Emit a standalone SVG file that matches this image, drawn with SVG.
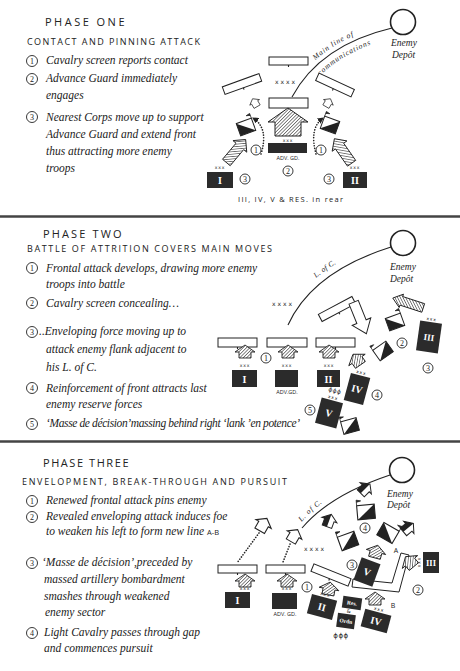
<svg xmlns="http://www.w3.org/2000/svg" xmlns:xlink="http://www.w3.org/1999/xlink" width="460" height="671" viewBox="0 0 460 671">
<style>
.t{font-family:"Liberation Serif",serif;font-style:italic;font-size:11.5px;fill:#222}
.h{font-family:"Open Sans",sans-serif;font-size:11px;letter-spacing:1.5px;fill:#222}
.s{font-family:"Open Sans",sans-serif;font-size:9px;fill:#222}
.n{font-family:"Liberation Serif",serif;font-size:8px;fill:#222;text-anchor:middle}
.c{fill:#fff;stroke:#222;stroke-width:0.9}
.x{font-family:"DejaVu Sans",sans-serif;font-size:4.5px;letter-spacing:0.8px;fill:#222;text-anchor:middle}
.x4{font-family:"DejaVu Sans",sans-serif;font-size:6px;letter-spacing:2px;fill:#222;text-anchor:middle}
.box{fill:#2b2b2b}
.rn{font-family:"Liberation Serif",serif;font-weight:bold;font-size:10px;fill:#fff;text-anchor:middle}
.rs{font-family:"Liberation Serif",serif;font-weight:bold;font-size:5.5px;fill:#fff;text-anchor:middle}
.wr{fill:#fff;stroke:#222;stroke-width:1}
.lc{fill:none;stroke:#222;stroke-width:1.1}
.dot{fill:none;stroke:#222;stroke-width:1.6;stroke-dasharray:0.1 2.6;stroke-linecap:round}
.lab{font-family:"Open Sans",sans-serif;font-size:5.5px;fill:#222;text-anchor:middle}
.ed{font-family:"Liberation Serif",serif;font-style:italic;font-size:9.5px;fill:#222}
.lt{font-family:"Liberation Serif",serif;font-style:italic;font-size:7.5px;letter-spacing:0.8px;fill:#222}
.dep{fill:#fff;stroke:#222;stroke-width:1.6}
.sep{stroke:#444;stroke-width:2.5}
</style>
<defs>
<pattern id="hp" width="2.4" height="2.4" patternUnits="userSpaceOnUse" patternTransform="rotate(45)"><rect width="2.4" height="2.4" fill="#fff"/><line x1="0" y1="0" x2="0" y2="2.4" stroke="#222" stroke-width="1.1"/></pattern>
<pattern id="hx" width="2.6" height="2.6" patternUnits="userSpaceOnUse" patternTransform="rotate(-45)"><rect width="2.6" height="2.6" fill="#fff"/><line x1="0" y1="0" x2="0" y2="2.6" stroke="#222" stroke-width="1.1"/></pattern>
<path id="ha" d="M0,-7 L10,0 L6,0 L6,6 L-6,6 L-6,0 L-10,0 Z" fill="url(#hp)" stroke="#222" stroke-width="0.9"/>
<path id="la" d="M0,-15 L9,-6 L5,-6 L5,15 L-5,15 L-5,-6 L-9,-6 Z" fill="url(#hp)" stroke="#222" stroke-width="0.9"/>
<path id="lx" d="M0,-15 L9,-6 L5,-6 L5,15 L-5,15 L-5,-6 L-9,-6 Z" fill="url(#hx)" stroke="#222" stroke-width="0.9"/>
<path id="la2" d="M0,-16 L7,-7 L4.5,-7 L4.5,16 L-4.5,16 L-4.5,-7 L-7,-7 Z" fill="url(#hp)" stroke="#222" stroke-width="0.9"/>
<g id="fu"><rect x="-8" y="-6.5" width="16" height="13" fill="#fff" stroke="#222" stroke-width="1"/><path d="M8,-6.5 L8,6.5 L-8,6.5 Z" fill="#222"/><path d="M-8,-6.5 L-8,-11.5 L-4,-10.5 L-8,-9.5" fill="#222" stroke="#222" stroke-width="0.7"/></g>
<g id="wh"><path d="M0,-7 L8,-1 L5,-1 L5,6 L-5,6 L-5,-1 L-8,-1 Z" fill="#fff" stroke="#222" stroke-width="1"/></g>
<g id="bh"><path d="M0,-7 L8,-1 L5,-1 L5,6 L-5,6 L-5,-1 L-8,-1 Z" fill="#fff" stroke="#222" stroke-width="1"/><path d="M0,-7 L-8,-1 L-5,-1 L-5,6 L0,6 Z" fill="#222"/></g>
<path id="wa" d="M-5,-17 L5,-17 L5,4 L10,4 L0,17 L-10,4 L-5,4 Z" fill="#fff" stroke="#222" stroke-width="1"/>
<marker id="ah" viewBox="0 0 6 6" refX="5" refY="3" markerWidth="4" markerHeight="4" orient="auto"><path d="M0,0 L6,3 L0,6 Z" fill="#222"/></marker>
<path id="p1a" d="M289,94 Q317,41 390,24"/>
<path id="p1b" d="M301,101 Q328,53 396,37"/>
<path id="p2a" d="M284,322 Q306,266 388,242"/>
<path id="p3a" d="M299,525 Q327,491 386,470"/>
</defs>
<rect width="460" height="671" fill="#fff"/>

<g id="separators">
<line class="sep" x1="0" y1="216.5" x2="460" y2="216.5"/>
<line class="sep" x1="0" y1="441.5" x2="460" y2="441.5"/>
</g>

<g id="connectors">
<path class="lc" d="M292,97 Q320,45 392,28"/>
<path class="dot" d="M261,154 Q269,128 253,118" marker-end="url(#ah)"/>
<path class="dot" d="M316,154 Q309,128 323,118" marker-end="url(#ah)"/>
<path class="lc" d="M288,325 Q312,272 391,247"/>
<path class="lc" d="M302,528 Q330,495 390,475"/>
<path class="dot" d="M259,533 L237,563"/>
<path class="dot" d="M290,544 L283,562"/>
</g>

<g id="phase1-text">
<text class="h" x="45" y="26" textLength="81">PHASE ONE</text>
<text class="s" x="27" y="45" textLength="173">CONTACT AND PINNING ATTACK</text>
<circle class="c" cx="32" cy="61" r="5.5"/><text class="n" x="32" y="63.8">1</text>
<text class="t" x="46" y="64">Cavalry screen reports contact</text>
<circle class="c" cx="32" cy="79" r="5.5"/><text class="n" x="32" y="81.8">2</text>
<text class="t" x="46" y="82">Advance Guard immediately</text>
<text class="t" x="46" y="99">engages</text>
<circle class="c" cx="32" cy="117" r="5.5"/><text class="n" x="32" y="119.8">3</text>
<text class="t" x="46" y="121">Nearest Corps move up to support</text>
<text class="t" x="46" y="138">Advance Guard and extend front</text>
<text class="t" x="46" y="155">thus attracting more enemy</text>
<text class="t" x="46" y="172">troops</text>
</g>

<g id="p1-depot"><circle class="dep" cx="403" cy="22" r="12.5"/><text class="ed" x="391" y="46">Enemy</text><text class="ed" x="392" y="58">Depôt</text></g>
<g id="p1-loc-label"><text class="lt"><textPath xlink:href="#p1a" startOffset="43">Main line of</textPath></text><text class="lt"><textPath xlink:href="#p1b" startOffset="32">communications</textPath></text></g>
<g id="p1-enemy-lines">
<rect class="wr" x="269" y="57" width="39" height="8"/><line class="lc" x1="288.5" y1="65" x2="288.5" y2="67"/>
<g transform="translate(242,84) rotate(-20)"><rect class="wr" x="-19.5" y="-4" width="39" height="8"/><line class="lc" x1="0" y1="4" x2="0" y2="6"/></g>
<g transform="translate(335,85) rotate(25)"><rect class="wr" x="-19.5" y="-4" width="39" height="8"/><line class="lc" x1="0" y1="4" x2="0" y2="6"/></g>
<rect class="wr" x="269" y="98" width="39" height="10"/><line class="lc" x1="288.5" y1="108" x2="288.5" y2="111"/>
<text class="x4" x="286" y="84">xxxx</text>
</g>
<g id="p1-cavalry-screen"><use xlink:href="#wh" transform="translate(255,103) rotate(-30) scale(0.7)"/><use xlink:href="#wh" transform="translate(328,103) rotate(30) scale(0.7)"/></g>
<g id="p1-advgd">
<path d="M288,108 L308,122 L301,122 L301,136 L275,136 L275,122 L268,122 Z" fill="url(#hp)" stroke="#222" stroke-width="1"/>
<text class="x" x="288" y="141.5">xxx</text>
<rect class="box" x="268" y="143" width="39" height="10"/>
<text class="lab" x="288" y="160">ADV. GD.</text>
<circle class="c" cx="288" cy="171" r="5"/><text class="n" x="288" y="173.8">2</text>
</g>
<g id="p1-flags"><use xlink:href="#fu" transform="translate(246,127) rotate(-20) scale(-1,1)"/><use xlink:href="#fu" transform="translate(330,125) rotate(20)"/></g>
<g id="p1-corps-I">
<use xlink:href="#la" transform="translate(236,151) rotate(40)"/>
<text class="x" x="220" y="169">xxx</text>
<rect class="box" x="207" y="172" width="26" height="16"/><text class="rn" x="220" y="184">I</text>
<circle class="c" cx="256" cy="150" r="5"/><text class="n" x="256" y="152.8">1</text>
<circle class="c" cx="245" cy="179" r="5"/><text class="n" x="245" y="181.8">3</text>
</g>
<g id="p1-corps-II">
<use xlink:href="#lx" transform="translate(343,151) rotate(-35)"/>
<text class="x" x="355" y="169">xxx</text>
<rect class="box" x="343" y="172" width="24" height="16"/><text class="rn" x="355" y="184">II</text>
<circle class="c" cx="321" cy="150" r="5"/><text class="n" x="321" y="152.8">1</text>
<circle class="c" cx="329" cy="179" r="5"/><text class="n" x="329" y="181.8">3</text>
</g>
<text class="lab" x="238" y="202" style="font-size:7.5px;text-anchor:start" textLength="105">III, IV, V &amp; RES. in rear</text>

<g id="phase2-text">
<text class="h" x="43" y="238" textLength="80">PHASE TWO</text>
<text class="s" x="27" y="252" textLength="245">BATTLE OF ATTRITION COVERS MAIN MOVES</text>
<circle class="c" cx="32" cy="268" r="5.5"/><text class="n" x="32" y="270.8">1</text>
<text class="t" x="46" y="272">Frontal attack develops, drawing more enemy</text>
<text class="t" x="46" y="288">troops into battle</text>
<circle class="c" cx="32" cy="303" r="5.5"/><text class="n" x="32" y="305.8">2</text>
<text class="t" x="46" y="307">Cavalry screen concealing…</text>
<circle class="c" cx="32" cy="332" r="5.5"/><text class="n" x="32" y="334.8">3</text>
<text class="t" x="39" y="335">..Enveloping force moving up to</text>
<text class="t" x="46" y="353">attack enemy flank adjacent to</text>
<text class="t" x="46" y="371">his L. of C.</text>
<circle class="c" cx="32" cy="388" r="5.5"/><text class="n" x="32" y="390.8">4</text>
<text class="t" x="46" y="392">Reinforcement of front attracts last</text>
<text class="t" x="46" y="408">enemy reserve forces</text>
<circle class="c" cx="32" cy="424" r="5.5"/><text class="n" x="32" y="426.8">5</text>
<text class="t" x="46" y="427" textLength="254">‘Masse de décision’massing behind right  ‘lank ’en potence’</text>
</g>

<g id="p2-depot"><circle class="dep" cx="403" cy="243" r="12.5"/><text class="ed" x="390" y="270">Enemy</text><text class="ed" x="390" y="282">Depôt</text></g>
<g id="p2-loc-label"><text class="lt" style="letter-spacing:0.3px"><textPath xlink:href="#p2a" startOffset="55">L. of C.</textPath></text></g>
<g id="p2-enemy-lines">
<text class="x4" x="283" y="306">xxxx</text>
<g transform="translate(337,309) rotate(-28)"><rect class="wr" x="-19" y="-4" width="38" height="8"/><line class="lc" x1="0" y1="4" x2="0" y2="6"/></g>
<rect class="wr" x="218" y="338" width="39" height="9"/><line class="lc" x1="237.5" y1="347" x2="237.5" y2="349"/>
<rect class="wr" x="267" y="338" width="40" height="9"/><line class="lc" x1="287" y1="347" x2="287" y2="349"/>
<rect class="wr" x="316" y="338" width="39" height="9"/><line class="lc" x1="335.5" y1="347" x2="335.5" y2="349"/>
</g>
<g id="p2-enemy-move"><use xlink:href="#wa" transform="translate(360,318) rotate(-22)"/></g>
<g id="p2-envelop"><use xlink:href="#la2" transform="translate(408,303) rotate(-72)"/></g>
<g id="p2-corps-III">
<use xlink:href="#fu" transform="translate(395,322) rotate(-20) scale(-1,1)"/>
<g transform="translate(429,337) rotate(8)"><text class="x" x="0" y="-16.5">xxx</text><rect class="box" x="-11" y="-15" width="22" height="30"/><text class="rn" x="0" y="3.5" style="font-size:9px">III</text></g>
<circle class="c" cx="402" cy="343" r="5"/><text class="n" x="402" y="345.8">2</text>
<circle class="c" cx="428" cy="368" r="5"/><text class="n" x="428" y="370.8">3</text>
</g>
<g id="p2-corps-I">
<use xlink:href="#ha" transform="translate(245,352)"/>
<text class="x" x="245" y="367">xxx</text>
<rect class="box" x="232" y="370" width="25" height="17"/><text class="rn" x="244.5" y="382.5">I</text>
<circle class="c" cx="266" cy="358" r="5"/><text class="n" x="266" y="360.8">1</text>
</g>
<g id="p2-advgd">
<use xlink:href="#ha" transform="translate(288,352)"/>
<text class="x" x="287" y="367">xxx</text>
<rect class="box" x="275" y="370" width="23" height="17"/>
<text class="lab" x="287" y="394">ADV.GD.</text>
</g>
<g id="p2-corps-II">
<use xlink:href="#ha" transform="translate(329,352)"/>
<text class="x" x="329" y="367">xxx</text>
<rect class="box" x="317" y="370" width="23" height="17"/><text class="rn" x="328.5" y="382.5">II</text>
</g>
<g id="p2-cavalry"><use xlink:href="#ha" transform="translate(357,360) rotate(-35)"/><use xlink:href="#fu" transform="translate(383,351) rotate(-35)"/></g>
<g id="p2-corps-IV">
<g transform="translate(357,389) rotate(15)"><text class="x" x="0" y="-15.5">xxx</text><rect class="box" x="-10" y="-14" width="20" height="28"/><text class="rn" x="0" y="3.5">IV</text></g>
<circle class="c" cx="377" cy="395" r="5"/><text class="n" x="377" y="397.8">4</text>
</g>
<g id="p2-corps-V">
<g transform="translate(329,413) rotate(15)"><text class="x" x="0" y="-21" style="font-size:6px;letter-spacing:0.5px">ϕϕϕ</text><text class="x" x="0" y="-14.5">xxx</text><rect class="box" x="-11" y="-13" width="22" height="26"/><text class="rn" x="0" y="3.5">V</text></g>
<circle class="c" cx="310" cy="410" r="5"/><text class="n" x="310" y="412.8">5</text>
<use xlink:href="#fu" transform="translate(350,426) rotate(-15)"/>
</g>

<g id="phase3-text">
<text class="h" x="43" y="467" textLength="87">PHASE THREE</text>
<text class="s" x="22" y="485" textLength="265">ENVELOPMENT, BREAK-THROUGH AND PURSUIT</text>
<circle class="c" cx="32" cy="501" r="5.5"/><text class="n" x="32" y="503.8">1</text>
<text class="t" x="46" y="504">Renewed frontal attack pins enemy</text>
<circle class="c" cx="32" cy="517" r="5.5"/><text class="n" x="32" y="519.8">2</text>
<text class="t" x="46" y="520">Revealed enveloping attack induces foe</text>
<text class="t" x="46" y="535">to weaken his left to form new line <tspan style="font-style:normal;font-family:'Open Sans',sans-serif;font-size:7.5px">A-B</tspan></text>
<circle class="c" cx="32" cy="563" r="5.5"/><text class="n" x="32" y="565.8">3</text>
<text class="t" x="42" y="566">‘Masse de décision’,preceded by</text>
<text class="t" x="44" y="583">massed artillery bombardment</text>
<text class="t" x="44" y="600">smashes through weakened</text>
<text class="t" x="45" y="616">enemy sector</text>
<circle class="c" cx="32" cy="633" r="5.5"/><text class="n" x="32" y="635.8">4</text>
<text class="t" x="44" y="636">Light Cavalry passes through gap</text>
<text class="t" x="44" y="652">and commences pursuit</text>
</g>

<g id="p3-depot"><circle class="dep" cx="402" cy="470" r="12.5"/><text class="ed" x="387" y="497">Enemy</text><text class="ed" x="387" y="508">Depôt</text></g>
<g id="p3-loc-label"><text class="lt"><textPath xlink:href="#p3a" startOffset="4">L. of C.</textPath></text></g>
<g id="p3-pursuit">
<use xlink:href="#wh" transform="translate(263,525) rotate(30) scale(1.1)"/>
<use xlink:href="#wh" transform="translate(294,536) rotate(30) scale(1.05)"/>
<use xlink:href="#bh" transform="translate(365,489) rotate(45)"/>
<use xlink:href="#bh" transform="translate(329,521) rotate(20)"/>
<use xlink:href="#bh" transform="translate(408,528) rotate(50)"/>
<use xlink:href="#fu" transform="translate(366,512) rotate(-5) scale(1.1)"/>
<use xlink:href="#fu" transform="translate(348,541) rotate(-20) scale(1.1)"/>
<use xlink:href="#fu" transform="translate(388,533) rotate(30) scale(-1.1,1.1)"/>
<circle class="c" cx="365" cy="528" r="5"/><text class="n" x="365" y="530.8">4</text>
</g>
<g id="p3-enemy-lines">
<text class="x4" x="315" y="551">xxxx</text>
<rect class="wr" x="218" y="565" width="39" height="8"/><line class="lc" x1="237.5" y1="573" x2="237.5" y2="575"/>
<rect class="wr" x="266" y="565" width="39" height="8"/><line class="lc" x1="285.5" y1="573" x2="285.5" y2="575"/>
<g transform="translate(331,575) rotate(22)"><rect class="wr" x="-20" y="-4" width="40" height="8"/><line class="lc" x1="0" y1="4" x2="0" y2="6"/></g>
<path class="wr" d="M401,553 L409,555 L399,592 L352,587 L353,579 L392,583 Z"/>
<text class="lab" x="396" y="553" style="font-size:7px">A</text>
<text class="lab" x="393" y="608" style="font-size:7px">B</text>
</g>
<g id="p3-corps-I">
<use xlink:href="#ha" transform="translate(245,581)"/>
<text class="x" x="245" y="590">xxx</text>
<rect class="box" x="225" y="592" width="25" height="16"/><text class="rn" x="237.5" y="604">I</text>
</g>
<g id="p3-advgd">
<use xlink:href="#ha" transform="translate(287,581)"/>
<text class="x" x="287" y="590">xxx</text>
<rect class="box" x="272" y="593" width="25" height="16"/>
<text class="lab" x="285" y="616">ADV. GD.</text>
</g>
<g id="p3-corps-II">
<use xlink:href="#ha" transform="translate(329,589) rotate(10)"/>
<g transform="translate(322,607) rotate(15)"><text class="x" x="0" y="-11.5">xxx</text><rect class="box" x="-13" y="-10" width="26" height="20"/><text class="rn" x="0" y="3.5">II</text></g>
<circle class="c" cx="307" cy="587" r="5"/><text class="n" x="307" y="589.8">1</text>
</g>
<g id="p3-corps-V">
<use xlink:href="#ha" transform="translate(376,552) rotate(15)"/>
<g transform="translate(367,572) rotate(20)"><rect class="box" x="-10" y="-12" width="20" height="24"/><text class="rn" x="0" y="3.5">V</text></g>
<circle class="c" cx="352" cy="565" r="5"/><text class="n" x="352" y="567.8">3</text>
</g>
<g id="p3-corps-IV">
<use xlink:href="#ha" transform="translate(375,599)"/>
<g transform="translate(376,621) rotate(15)"><text class="x" x="0" y="-10.5">xxx</text><rect class="box" x="-13.5" y="-9" width="27" height="18"/><text class="rn" x="0" y="3.5">IV</text></g>
</g>
<g id="p3-corps-III">
<use xlink:href="#ha" transform="translate(410,562) rotate(-40)"/>
<text class="x" transform="translate(419,563) rotate(90)" x="0" y="1.5">xxx</text>
<rect class="box" x="423" y="552" width="16" height="21"/><text class="rn" x="431" y="566" style="font-size:8.5px">III</text>
<circle class="c" cx="418" cy="590" r="5"/><text class="n" x="418" y="592.8">2</text>
</g>
<g id="p3-reserves">
<g transform="translate(352,603) rotate(8)"><rect class="box" x="-9.5" y="-6" width="19" height="12"/><text class="rs" x="0" y="2">Res.</text></g>
<text class="x" x="349" y="613" style="font-size:5px">&amp;</text>
<g transform="translate(346,621) rotate(8)"><rect class="box" x="-9" y="-7" width="18" height="14"/><text class="rs" x="0" y="2">Ordn</text></g>
<text class="x" x="341" y="638" style="font-size:7px;letter-spacing:0.5px">ϕϕϕ</text>
</g>
</svg>
